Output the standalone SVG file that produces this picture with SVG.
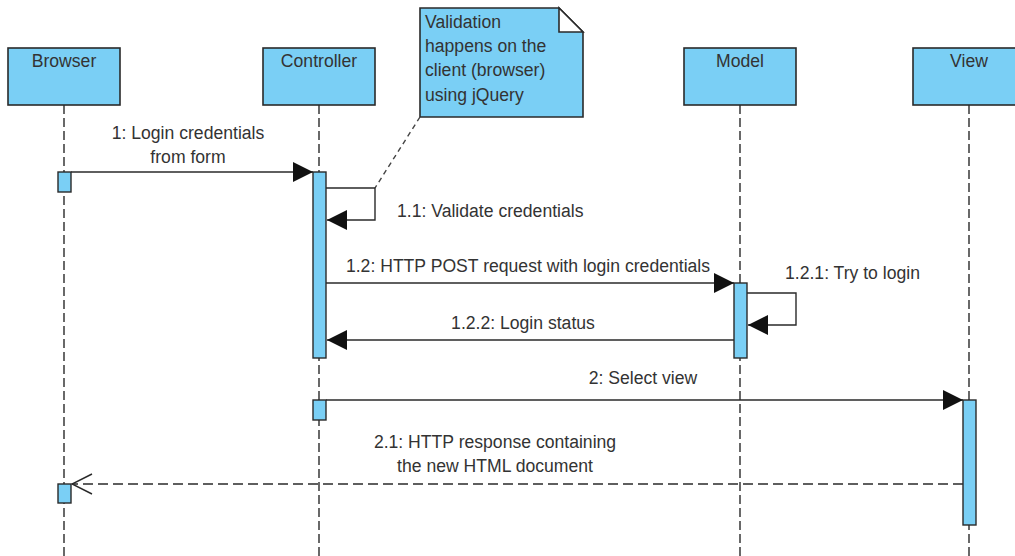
<svg xmlns="http://www.w3.org/2000/svg" width="1015" height="556" viewBox="0 0 1015 556">
<style>
  .box { fill: #7acff5; stroke: #2a2a2a; stroke-width: 1.6; }
  .act { fill: #7acff5; stroke: #2a2a2a; stroke-width: 1.4; }
  .life { stroke: #2a2a2a; stroke-width: 1.4; stroke-dasharray: 9 4; fill: none; }
  .msg { stroke: #2a2a2a; stroke-width: 1.4; fill: none; }
  .ret { stroke: #2a2a2a; stroke-width: 1.4; fill: none; stroke-dasharray: 10 5; }
  .anchor { stroke: #444; stroke-width: 1.4; fill: none; stroke-dasharray: 5 4; }
  text { font-family: "Liberation Sans", Arial, sans-serif; font-size: 17.6px; fill: #333; }
  .c { text-anchor: middle; }
</style>
<defs>
  <marker id="filled" viewBox="0 0 20 20" refX="20" refY="10" markerWidth="20" markerHeight="20" markerUnits="userSpaceOnUse" orient="auto">
    <path d="M0,0 L20,10 L0,20 Z" fill="#111"/>
  </marker>
  <marker id="open" viewBox="-1 -1 22 22" refX="20" refY="10" markerWidth="22" markerHeight="22" markerUnits="userSpaceOnUse" orient="auto">
    <path d="M0,0 L20,10 L0,20" fill="none" stroke="#2a2a2a" stroke-width="1.4"/>
  </marker>
</defs>
<rect width="1015" height="556" fill="#fff"/>

<g id="lifelines">
  <line class="life" x1="64" y1="105" x2="64" y2="556"/>
  <line class="life" x1="319" y1="105" x2="319" y2="556"/>
  <line class="life" x1="740" y1="105" x2="740" y2="556"/>
  <line class="life" x1="969" y1="105" x2="969" y2="556"/>
</g>

<g id="browser">
  <rect class="box" x="8" y="48" width="112" height="57"/>
  <text class="c" x="64" y="67">Browser</text>
</g>
<g id="controller">
  <rect class="box" x="263" y="48" width="112" height="57"/>
  <text class="c" x="319" y="67">Controller</text>
</g>
<g id="model">
  <rect class="box" x="684" y="48" width="112" height="57"/>
  <text class="c" x="740" y="67">Model</text>
</g>
<g id="view">
  <rect class="box" x="913" y="48" width="112" height="57"/>
  <text class="c" x="969" y="67">View</text>
</g>

<g id="note">
  <path class="box" d="M420,8 L559,8 L583,32 L583,117 L420,117 Z"/>
  <path d="M559,8 L559,32 L583,32 Z" fill="#fff" stroke="#2a2a2a" stroke-width="1.6" stroke-linejoin="miter"/>
  <text x="425" y="28">Validation</text>
  <text x="425" y="52">happens on the</text>
  <text x="425" y="76">client (browser)</text>
  <text x="425" y="101">using jQuery</text>
</g>

<g id="activations">
  <rect class="act" x="58" y="172" width="13" height="20"/>
  <rect class="act" x="313" y="172" width="13" height="186"/>
  <rect class="act" x="734" y="283" width="13" height="75"/>
  <rect class="act" x="313" y="400" width="13" height="20"/>
  <rect class="act" x="963" y="400" width="13" height="125"/>
  <rect class="act" x="58" y="484" width="13" height="19"/>
</g>

<g id="connectors">
  <line class="anchor" x1="420" y1="117" x2="375" y2="188"/>
  <line class="msg" x1="71" y1="172" x2="313" y2="172" marker-end="url(#filled)"/>
  <path class="msg" d="M326,188 H375 V220 H327" marker-end="url(#filled)"/>
  <line class="msg" x1="326" y1="283" x2="734" y2="283" marker-end="url(#filled)"/>
  <path class="msg" d="M747,293 H796 V325 H748" marker-end="url(#filled)"/>
  <line class="msg" x1="734" y1="340" x2="327" y2="340" marker-end="url(#filled)"/>
  <line class="msg" x1="326" y1="400" x2="963" y2="400" marker-end="url(#filled)"/>
  <line class="ret" x1="963" y1="484" x2="72" y2="484" marker-end="url(#open)"/>
</g>

<g id="labels">
  <text class="c" x="188" y="139">1: Login credentials</text>
  <text class="c" x="188" y="163">from form</text>
  <text x="397" y="217">1.1: Validate credentials</text>
  <text class="c" x="528" y="272">1.2: HTTP POST request with login credentials</text>
  <text x="785" y="279">1.2.1: Try to login</text>
  <text class="c" x="523" y="329">1.2.2: Login status</text>
  <text class="c" x="643" y="384">2: Select view</text>
  <text class="c" x="495" y="448">2.1: HTTP response containing</text>
  <text class="c" x="495" y="472">the new HTML document</text>
</g>
</svg>
